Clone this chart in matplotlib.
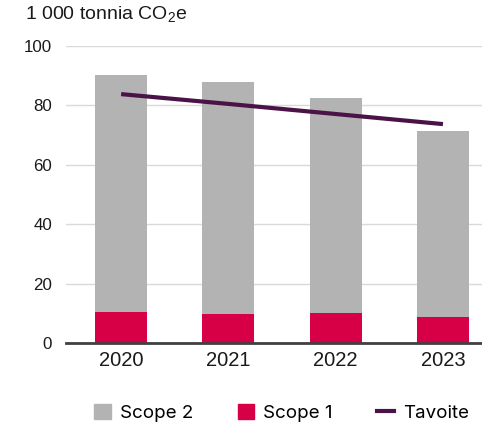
import matplotlib
matplotlib.use('Agg')
import matplotlib.pyplot as plt
from matplotlib.patches import Patch
from matplotlib.lines import Line2D

plt.rcParams['font.family'] = ['Liberation Sans', 'DejaVu Sans']
plt.rcParams['mathtext.fontset'] = 'custom'
plt.rcParams['mathtext.rm'] = 'Liberation Sans'

years = ['2020', '2021', '2022', '2023']
scope1 = [10.4, 9.7, 10.0, 8.7]
scope2 = [79.8, 78.2, 72.5, 62.7]
tavoite = [83.8, 80.5, 77.1, 73.7]

grey = '#b3b3b3'
red = '#d70046'
purple = '#4b1248'

fig = plt.figure(figsize=(4.82, 4.28), dpi=100)
ax = fig.add_axes([66/482, 85/428, 1 - 66/482, (343-46)/428])

x = range(len(years))
w = 0.486
ax.bar(x, scope1, width=w, color=red, zorder=3)
ax.bar(x, scope2, width=w, bottom=scope1, color=grey, zorder=3)
ax.plot(x, tavoite, color=purple, lw=3, solid_capstyle='butt', zorder=4)

ax.set_xlim(-0.514, 3.364)
ax.set_ylim(0, 100)
ax.set_yticks([0, 20, 40, 60, 80, 100])
ax.set_xticks(list(x))
ax.set_xticklabels(years)
ax.tick_params(axis='y', length=0, pad=10, labelsize=12.2, labelcolor='#1a1a1a')
ax.tick_params(axis='x', length=0, pad=6, labelsize=14.5, labelcolor='#1a1a1a')
ax.grid(axis='y', color='#d9d9d9', lw=1, zorder=0)
for s in ['top', 'right', 'left']:
    ax.spines[s].set_visible(False)
ax.spines['bottom'].set_color('#404040')
ax.spines['bottom'].set_linewidth(2)
ax.spines['bottom'].set_zorder(5)

fig.text(25/482, 1 - 15/428, '1 000 tonnia CO$_\\mathregular{2}$e', fontsize=14,
         va='center', ha='left', color='#1a1a1a')

handles = [Patch(color=grey), Patch(color=red), Line2D([], [], color=purple, lw=3)]
fig.legend(handles, ['Scope 2', 'Scope 1', 'Tavoite'], loc='center',
           bbox_to_anchor=(281.5/482, 1 - 413/428), ncol=3, frameon=False,
           prop={'family': 'Inter', 'size': 13.5}, handlelength=0.9, handleheight=0.9,
           handletextpad=0.48, columnspacing=2.35)

fig.savefig('out.png', dpi=100)
